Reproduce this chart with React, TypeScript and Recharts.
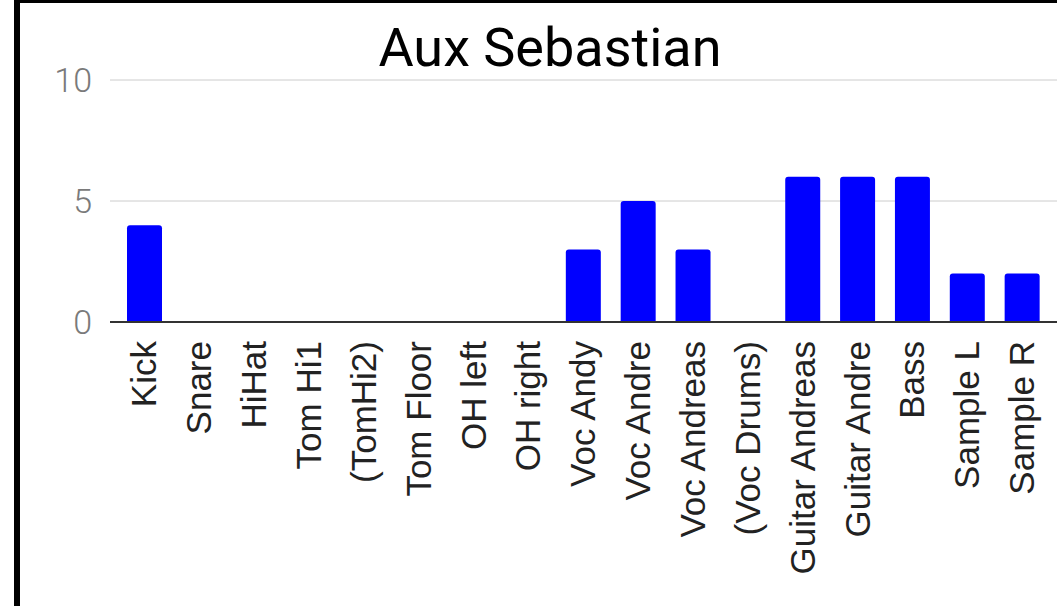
import React from 'react';
import { BarChart, Bar, XAxis, YAxis, CartesianGrid } from 'recharts';

const channels = [
  'Kick', 'Snare', 'HiHat', 'Tom Hi1', '(TomHi2)', 'Tom Floor', 'OH left', 'OH right',
  'Voc Andy', 'Voc Andre', 'Voc Andreas', '(Voc Drums)', 'Guitar Andreas', 'Guitar Andre',
  'Bass', 'Sample L', 'Sample R',
];
const auxLevels = [4, 0, 0, 0, 0, 0, 0, 0, 3, 5, 3, 0, 6, 6, 6, 2, 2];
const yTicks = [0, 5, 10];

const data = channels.map((name, i) => ({ name, value: auxLevels[i] }));

const RotatedTick = (props: any) => {
  const { x, y, payload } = props;
  return (
    <text
      x={x}
      y={y}
      dy={12}
      transform={`rotate(-90, ${x}, ${y})`}
      textAnchor="end"
      fill="#222"
      fontSize={35}
      fontFamily="'Liberation Sans', Arial, sans-serif"
    >
      {payload.value}
    </text>
  );
};

const LevelTick = (props: any) => {
  const { x, y, payload } = props;
  return (
    <text
      x={x}
      y={y}
      dy={12}
      textAnchor="end"
      fill="#7a7a7a"
      fontSize={34}
      fontWeight={300}
      fontFamily="Roboto, sans-serif"
    >
      {payload.value}
    </text>
  );
};

export default function App() {
  return (
    <div style={{ position: 'absolute', left: 0, top: 0, width: 1057, height: 606, background: '#fff', overflow: 'hidden' }}>
      <div style={{ position: 'absolute', left: 14, top: 0, right: 0, bottom: 0, borderLeft: '6px solid #000', borderTop: '3px solid #000' }} />
      <BarChart
        width={1057}
        height={606}
        data={data}
        margin={{ top: 80, right: 0, bottom: 0, left: 0 }}
        style={{ position: 'absolute', left: 0, top: 0 }}
      >
        <CartesianGrid vertical={false} stroke="#cccccc" />
        <XAxis
          dataKey="name"
          interval={0}
          height={284}
          padding={{ left: 7, right: 7.5 }}
          tickLine={false}
          axisLine={{ stroke: '#333', strokeWidth: 2 }}
          tick={<RotatedTick />}
          tickMargin={13}
        />
        <YAxis
          width={110}
          domain={[0, 10]}
          ticks={yTicks}
          axisLine={false}
          tickLine={false}
          tickMargin={12}
          tick={<LevelTick />}
        />
        <Bar dataKey="value" fill="#0000ff" barSize={35} radius={[3, 3, 0, 0]} isAnimationActive={false} />
      </BarChart>
      <div
        style={{
          position: 'absolute',
          left: 0,
          width: 1100,
          top: 13,
          textAlign: 'center',
          fontFamily: 'Roboto, sans-serif',
          fontSize: 54,
          color: '#000',
          lineHeight: '70px',
        }}
      >
        Aux Sebastian
      </div>
    </div>
  );
}
